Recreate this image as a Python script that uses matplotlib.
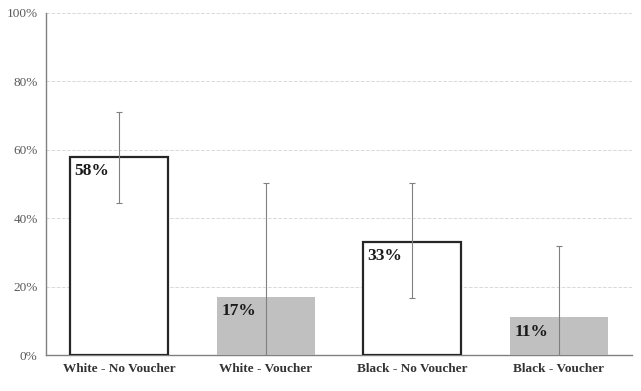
import matplotlib as mpl
mpl.use('Agg')
import matplotlib.pyplot as plt
from matplotlib.ticker import PercentFormatter
import numpy as np

plt.rcParams['font.family'] = 'Liberation Serif'

categories = ['White - No Voucher', 'White - Voucher', 'Black - No Voucher', 'Black - Voucher']
values = [58, 17, 33, 11]
err_low = [44.4, 0, 16.7, 0]
err_high = [71, 50.3, 50.3, 32]
labels = ['58%', '17%', '33%', '11%']
hollow = [True, False, True, False]

fig = plt.figure(figsize=(6.41, 3.91), dpi=100)
ax = fig.add_axes([0.0718, 0.092, 0.9142, 0.875])

x = np.arange(len(categories))
for i in range(len(categories)):
    if hollow[i]:
        ax.bar(x[i], values[i], width=0.667, facecolor='white', edgecolor='#262626',
               linewidth=1.6, zorder=3)
    else:
        ax.bar(x[i], values[i], width=0.667, color='#c0c0c0', linewidth=0, zorder=3)
    ax.text(x[i] - 0.305, values[i] - 1.8, labels[i], ha='left', va='top',
            fontsize=12.5, fontweight='bold', color='#1a1a1a', zorder=5)

yerr = [np.array(values) - np.array(err_low), np.array(err_high) - np.array(values)]
ax.errorbar(x, values, yerr=yerr, fmt='none', ecolor='#808080', elinewidth=0.8,
            capsize=2, capthick=0.8, zorder=4)

ax.set_xlim(-0.5, 3.5)
ax.set_ylim(0, 100)
ax.set_yticks([0, 20, 40, 60, 80, 100])
ax.yaxis.set_major_formatter(PercentFormatter(decimals=0))
ax.set_xticks(x)
ax.set_xticklabels(categories, fontsize=9.5, fontweight='bold', color='#333333')
ax.tick_params(axis='y', labelsize=9.5, labelcolor='#595959', length=0, pad=6)
ax.tick_params(axis='x', length=0, pad=6)
ax.grid(axis='y', color='#d9d9d9', linestyle='--', linewidth=0.7, zorder=0)
for s in ['top', 'right']:
    ax.spines[s].set_visible(False)
for s in ['left', 'bottom']:
    ax.spines[s].set_color('#808080')
    ax.spines[s].set_linewidth(1.0)

fig.savefig('out.png', dpi=100)
